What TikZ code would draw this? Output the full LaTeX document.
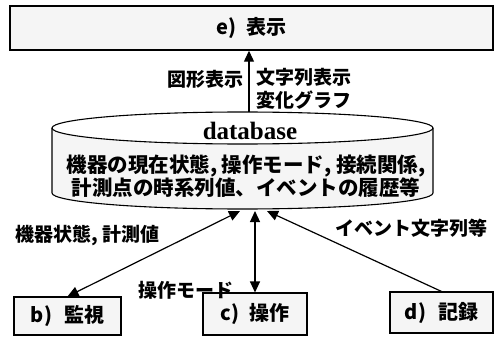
\documentclass[tikz,border=0pt]{standalone}
\usepackage{fontspec}
\setmainfont{Liberation Sans}
\newfontfamily\jp{Noto Sans CJK JP}
\newfontfamily\dbfont{Liberation Serif}
\usetikzlibrary{arrows.meta}
\begin{document}
\begin{tikzpicture}[x=1pt,y=-1pt,
  box/.style={draw,line width=1.1pt,fill=black!4,inner sep=0pt,font=\jp\bfseries\fontsize{20}{22}\selectfont},
  lbl/.style={font=\jp\bfseries\fontsize{19}{22}\selectfont,inner sep=0pt},
  arr/.style={line width=1.2pt,-{Triangle[length=11pt,width=10pt]}},
  darr/.style={line width=1.2pt,{Triangle[length=11pt,width=10pt]}-{Triangle[length=11pt,width=10pt]}},
]
\useasboundingbox (0,0) rectangle (496,337);
% top display box
\node[box,line width=1.4pt,minimum width=483,minimum height=44] (e) at (251.5,28) {e)\hspace{0.5em}表示};
% database cylinder
\draw[line width=1.1pt,fill=black!4] (52,128) -- (52,193)
  arc[start angle=180,end angle=0,x radius=190.5,y radius=16] -- (433,128);
\draw[line width=1.1pt,fill=white] (242.5,128) ellipse[x radius=190.5,y radius=16];
\node[inner sep=0pt,font=\dbfont\bfseries\fontsize{25}{26}\selectfont] (dbtitle) at (250,131) {database};
\node[lbl,font=\jp\bfseries\fontsize{20.5}{23}\selectfont,align=center] (dbtext) at (246,176)
  {機器の現在状態, 操作モード, 接続関係,\\計測点の時系列値、イベントの履歴等};
\coordinate (db-e) at (249,112);
\coordinate (db-b) at (240,211);
\coordinate (db-c) at (255,211);
\coordinate (db-d) at (267,211);
% labels near top arrow
\node[lbl,anchor=east] (lg) at (244,79) {図形表示};
\node[lbl,anchor=west,align=left,font=\jp\bfseries\fontsize{19}{23}\selectfont] (lt) at (256,89) {文字列表示\\変化グラフ};
% bottom boxes
\node[box,minimum width=107,minimum height=38] (b) at (67.5,316) {b)\hspace{0.6em}監視};
\node[box,minimum width=104,minimum height=42] (c) at (255,314) {c)\hspace{0.5em}操作};
\node[box,minimum width=103,minimum height=41] (d) at (441.5,312.5) {d)\hspace{0.6em}記録};
% bottom labels
\node[lbl,anchor=west] (lb) at (15,235) {機器状態, 計測値};
\node[lbl,anchor=west] (ld) at (335,228) {イベント文字列等};
\node[lbl,anchor=west] (lc) at (138,290) {操作モード};
% connectors
\draw[arr] (db-e) -- (db-e |- e.south);
\draw[darr] (db-b) -- (b.north);
\draw[darr] (db-c) -- (c.north);
\draw[arr] (d.north) -- (db-d);
\end{tikzpicture}
\end{document}
